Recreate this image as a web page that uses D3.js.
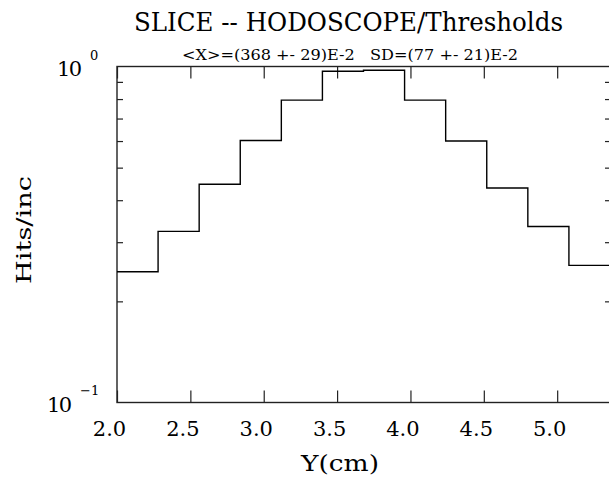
<!DOCTYPE html>
<html>
<head>
<meta charset="utf-8">
<script src="https://cdn.jsdelivr.net/npm/d3@7/dist/d3.min.js"></script>
<style>
  html, body { margin: 0; padding: 0; background: #fff; }
  svg { display: block; }
  text { font-family: "DejaVu Serif", "Liberation Serif", serif; fill: #000; white-space: pre; }
</style>
</head>
<body>
<svg id="chart" width="609" height="483"></svg>
<script>
// ---- data ----
const binEdges = [2.00, 2.28, 2.56, 2.84, 3.12, 3.40, 3.68, 3.96, 4.24, 4.52, 4.80, 5.08, 5.36];
const binValues = [0.245, 0.323, 0.446, 0.602, 0.794, 0.968, 0.975, 0.794, 0.600, 0.435, 0.334, 0.256];
const xTickValues = [2.0, 2.5, 3.0, 3.5, 4.0, 4.5, 5.0];
const xTickLabels = ["2.0", "2.5", "3.0", "3.5", "4.0", "4.5", "5.0"];
const yMinorTicks = [0.2, 0.3, 0.4, 0.5, 0.6, 0.7, 0.8, 0.9];
const titleText = "SLICE -- HODOSCOPE/Thresholds";
const subtitleText = "<X>=(368 +- 29)E-2   SD=(77 +- 21)E-2";
const xTitle = "Y(cm)";
const yTitle = "Hits/inc";

// ---- layout ----
const L = 117, R = 610, T = 66.5, B = 402.5;
const svg = d3.select("#chart");
const x = d3.scaleLinear().domain([2.0, 5.36]).range([L, R]);
const y = d3.scaleLog().domain([0.1, 1]).range([B, T]);

const ink = "#222";

// frame
svg.append("rect")
  .attr("x", L).attr("y", T).attr("width", R - L).attr("height", B - T)
  .attr("fill", "none").attr("stroke", ink).attr("stroke-width", 1.4);

// bottom x axis ticks (inward)
const gxB = svg.append("g").attr("transform", `translate(0,${B})`)
  .call(d3.axisBottom(x).tickValues(xTickValues).tickSizeInner(-12).tickSizeOuter(0)
    .tickFormat((d, i) => xTickLabels[i]));
gxB.select(".domain").remove();
gxB.selectAll(".tick line").attr("stroke", ink).attr("stroke-width", 1.2);
gxB.selectAll(".tick text")
  .attr("y", 33.5).attr("dy", null).attr("dx", -8)
  .style("font-size", "21px").style("font-family", "DejaVu Serif, serif")
  .attr("fill", "#000");

// top x axis ticks (inward)
const gxT = svg.append("g").attr("transform", `translate(0,${T})`)
  .call(d3.axisTop(x).tickValues(xTickValues).tickSizeInner(-12).tickSizeOuter(0).tickFormat(""));
gxT.select(".domain").remove();
gxT.selectAll(".tick line").attr("stroke", ink).attr("stroke-width", 1.2);

// left y minor ticks
const gyL = svg.append("g").attr("transform", `translate(${L},0)`)
  .call(d3.axisLeft(y).tickValues(yMinorTicks).tickSizeInner(-6).tickSizeOuter(0).tickFormat(""));
gyL.select(".domain").remove();
gyL.selectAll(".tick line").attr("stroke", ink).attr("stroke-width", 1.2);

// right y minor ticks
const gyR = svg.append("g").attr("transform", `translate(${R},0)`)
  .call(d3.axisRight(y).tickValues(yMinorTicks).tickSizeInner(-5).tickSizeOuter(0).tickFormat(""));
gyR.select(".domain").remove();
gyR.selectAll(".tick line").attr("stroke", ink).attr("stroke-width", 1.2);

// y decade labels
function decade(xpos, ybase, expo, expX, expY) {
  svg.append("text").attr("x", xpos).attr("y", ybase).style("font-size", "21px")
    .attr("textLength", 25).attr("lengthAdjust", "spacing").text("10");
  svg.append("text").attr("x", expX).attr("y", expY).style("font-size", "13px").text(expo);
}
decade(57, y(1) + 9, "0", 90, y(1) - 6.5);
decade(47, y(0.1) + 9.5, "\u22121", 80, y(0.1) - 8);

// histogram step line
const pts = binValues.map((v, i) => [binEdges[i], v]);
pts.push([binEdges[binEdges.length - 1], binValues[binValues.length - 1]]);
const line = d3.line().x(d => x(d[0])).y(d => y(d[1])).curve(d3.curveStepAfter);
svg.append("path").datum(pts)
  .attr("d", line).attr("fill", "none").attr("stroke", "#000").attr("stroke-width", 1.4);

// titles
svg.append("text").attr("x", 348.5).attr("y", 31).attr("text-anchor", "middle")
  .style("font-size", "26px").attr("textLength", 429).attr("lengthAdjust", "spacingAndGlyphs")
  .text(titleText);
svg.append("text").attr("x", 350).attr("y", 60).attr("text-anchor", "middle")
  .style("font-size", "14px").attr("textLength", 336).attr("lengthAdjust", "spacingAndGlyphs")
  .text(subtitleText);

// axis titles
svg.append("text").attr("x", 340).attr("y", 471).attr("text-anchor", "middle")
  .style("font-size", "22px").attr("textLength", 78).attr("lengthAdjust", "spacingAndGlyphs")
  .text(xTitle);
svg.append("text").attr("transform", "translate(31,230) rotate(-90)").attr("text-anchor", "middle")
  .style("font-size", "21px").attr("textLength", 108).attr("lengthAdjust", "spacingAndGlyphs")
  .text(yTitle);
</script>
</body>
</html>
